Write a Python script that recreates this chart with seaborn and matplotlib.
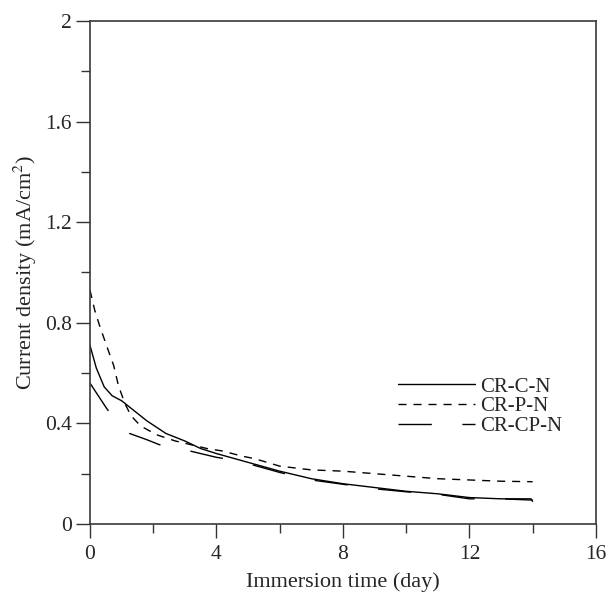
import matplotlib
matplotlib.use("Agg")
import matplotlib.pyplot as plt
import seaborn as sns
from matplotlib.ticker import MultipleLocator

# values
days_c = [0, 0.2, 0.45, 0.7, 1.0, 1.3, 1.8, 2.4, 3.0, 3.5, 4.0, 5.0, 6.0, 7.0, 8.0, 9.0, 10.0, 11.0, 12.0, 13.0, 13.95, 14.0]
cd_c = [0.71, 0.62, 0.545, 0.51, 0.49, 0.46, 0.41, 0.36, 0.33, 0.30, 0.28, 0.245, 0.21, 0.18, 0.16, 0.145, 0.13, 0.12, 0.105, 0.10, 0.10, 0.09]

days_p = [0, 0.15, 0.3, 0.55, 0.75, 0.9, 1.1, 1.3, 1.6, 2.1, 2.7, 3.7, 4.2, 4.8, 5.2, 6.0, 7.0, 8.0, 9.0, 10.0, 11.0, 12.0, 13.0, 14.0]
cd_p = [0.93, 0.85, 0.79, 0.70, 0.63, 0.55, 0.48, 0.43, 0.39, 0.355, 0.33, 0.30, 0.29, 0.27, 0.26, 0.23, 0.215, 0.21, 0.20, 0.19, 0.18, 0.175, 0.17, 0.168]

days_cp = [0, 0.55, 1.25, 1.8, 2.2, 3.0, 3.5, 4.0, 4.5, 5.0, 6.0, 7.0, 8.0, 9.0, 10.0, 11.0, 12.0, 13.0, 14.0]
cd_cp = [0.56, 0.455, 0.36, 0.335, 0.315, 0.295, 0.28, 0.265, 0.255, 0.24, 0.205, 0.175, 0.158, 0.14, 0.128, 0.118, 0.10, 0.10, 0.095]

labels = ["CR-C-N", "CR-P-N", "CR-CP-N"]

sns.set_style("ticks")
plt.rcParams['font.family'] = ['Liberation Serif', 'DejaVu Serif']
plt.rcParams['mathtext.fontset'] = 'stix'

fig, ax = plt.subplots(figsize=(6.08, 5.93), dpi=100)
fig.subplots_adjust(left=0.148, right=0.980, top=0.9646, bottom=0.1164)

sns.lineplot(x=days_c, y=cd_c, ax=ax, color='black', lw=1.0, label=labels[0], sort=False)
sns.lineplot(x=days_p, y=cd_p, ax=ax, color='black', lw=1.0, label=labels[1], sort=False,
             linestyle=(0, (5.8, 5.0)))
sns.lineplot(x=days_cp, y=cd_cp, ax=ax, color='black', lw=1.0, label=labels[2], sort=False,
             linestyle=(0, (24, 22)))

ax.set_xlim(0, 16)
ax.set_ylim(0, 2)
ax.set_xticks([0, 4, 8, 12, 16])
ax.set_yticks([0, 0.4, 0.8, 1.2, 1.6, 2.0])
ax.set_yticklabels(['0', '0.4', '0.8', '1.2', '1.6', '2'])
ax.xaxis.set_minor_locator(MultipleLocator(2))
ax.yaxis.set_minor_locator(MultipleLocator(0.2))
ax.tick_params(which='major', length=10, width=1, labelsize=15.5, color='#333333')
ax.tick_params(which='minor', length=6.5, width=1, color='#333333')
ax.tick_params(axis='x', which='major', pad=5)
ax.tick_params(axis='y', which='major', pad=3)

for sp in ax.spines.values():
    sp.set_linewidth(1.2)
    sp.set_color('#3a3a3a')

ax.set_xlabel('Immersion time (day)', fontsize=16, labelpad=6)
ax.set_ylabel('Current density (mA/cm$^2$)', fontsize=16, labelpad=4)

ax.legend(loc='upper left', bbox_to_anchor=(0.609, 0.292), frameon=False, fontsize=15,
          handlelength=3.7, handletextpad=0.25, labelspacing=0.0, borderpad=0,
          borderaxespad=0)

fig.savefig('out.png', dpi=100)
